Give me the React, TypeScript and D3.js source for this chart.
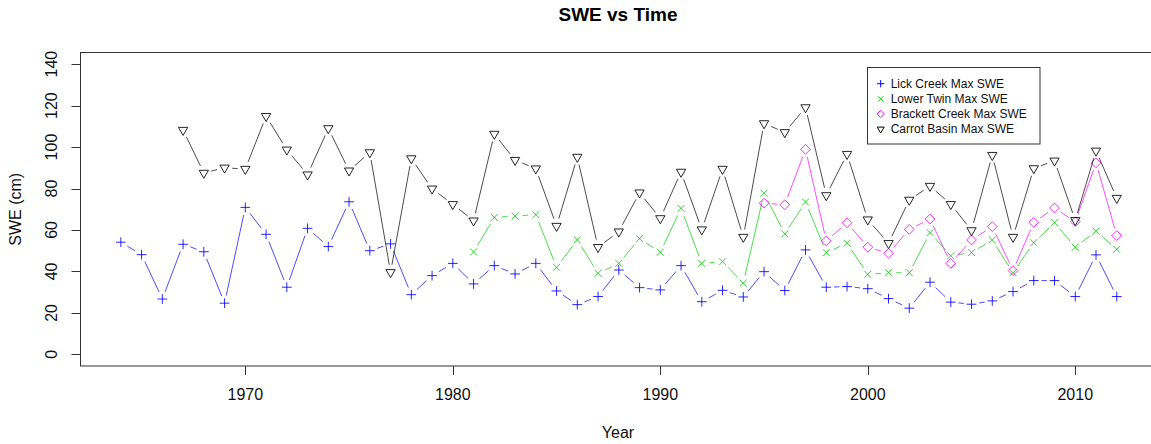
import React from 'react';
import * as d3 from 'd3';

// water years shown on the x axis
const years = [
  1964, 1965, 1966, 1967, 1968, 1969, 1970, 1971, 1972, 1973,
  1974, 1975, 1976, 1977, 1978, 1979, 1980, 1981, 1982, 1983,
  1984, 1985, 1986, 1987, 1988, 1989, 1990, 1991, 1992, 1993,
  1994, 1995, 1996, 1997, 1998, 1999, 2000, 2001, 2002, 2003,
  2004, 2005, 2006, 2007, 2008, 2009, 2010, 2011, 2012,
];

// max SWE per year (cm), null where the site has no record
const lickCreek = [
  54.1, 48.1, 26.7, 53.1, 49.5, 24.7, 70.9, 57.9, 32.4, 60.8,
  52.0, 73.6, 50.0, 53.3, 28.8, 38.0, 43.9, 34.0, 42.8, 38.8,
  43.9, 30.6, 24.0, 27.9, 40.7, 32.2, 31.1, 42.8, 25.4, 30.9,
  27.7, 39.9, 30.8, 50.4, 32.4, 32.7, 31.7, 26.9, 22.3, 34.8,
  25.2, 24.2, 25.8, 30.3, 35.6, 35.6, 27.9, 48.0, 27.9,
];
const lowerTwin = [
  null, null, null, null, null, null, null, null, null, null,
  null, null, null, null, null, null, null, 49.4, 66.1, 66.7,
  67.4, 42.0, 55.2, 39.1, 43.9, 55.8, 49.3, 70.4, 43.9, 44.7,
  34.4, 77.7, 58.1, 73.5, 49.1, 53.6, 38.6, 39.4, 39.4, 58.7,
  47.6, 49.1, 55.2, 39.4, 53.9, 63.5, 51.7, 59.4, 50.7,
];
const brackettCreek = [
  null, null, null, null, null, null, null, null, null, null,
  null, null, null, null, null, null, null, null, null, null,
  null, null, null, null, null, null, null, null, null, null,
  null, 72.9, 72.2, 98.9, 54.7, 63.5, 51.7, 48.8, 60.3, 65.3,
  43.9, 55.2, 61.6, 40.4, 63.7, 70.6, 64.0, 92.4, 57.3,
];
const carrotBasin = [
  null, null, null, 108.2, 87.5, 90.0, 89.4, 114.9, 98.7, 86.7,
  109.0, 88.6, 97.4, 39.6, 94.5, 79.9, 72.4, 64.5, 106.3, 93.7,
  89.6, 61.9, 95.2, 51.7, 59.2, 78.0, 65.6, 88.0, 60.2, 89.4,
  56.6, 111.4, 107.1, 119.1, 76.7, 96.6, 65.0, 53.6, 74.5, 81.2,
  72.4, 59.8, 96.1, 56.6, 89.7, 93.4, 64.7, 98.2, 75.4,
];

const seriesNames = [
  'Lick Creek Max SWE',
  'Lower Twin Max SWE',
  'Brackett Creek Max SWE',
  'Carrot Basin Max SWE',
];

const xTicks = [1970, 1980, 1990, 2000, 2010];
const yTicks = [0, 20, 40, 60, 80, 100, 120, 140];

const W = 1151;
const H = 444;
const FONT = '"Liberation Sans", Arial, sans-serif';

type Shape = 'plus' | 'cross' | 'diamond' | 'tri';

const series: { name: string; values: (number | null)[]; color: string; shape: Shape }[] = [
  { name: seriesNames[0], values: lickCreek, color: '#0000FF', shape: 'plus' },
  { name: seriesNames[1], values: lowerTwin, color: '#00CD00', shape: 'cross' },
  { name: seriesNames[2], values: brackettCreek, color: '#FF00FF', shape: 'diamond' },
  { name: seriesNames[3], values: carrotBasin, color: '#000000', shape: 'tri' },
];

// R style symbol paths, r is the base radius
function symbolPath(shape: Shape, x: number, y: number, r: number) {
  if (shape === 'plus') {
    const s = r * Math.SQRT2;
    return `M${x - s},${y}H${x + s}M${x},${y - s}V${y + s}`;
  }
  if (shape === 'cross') {
    return `M${x - r},${y - r}L${x + r},${y + r}M${x - r},${y + r}L${x + r},${y - r}`;
  }
  if (shape === 'diamond') {
    const s = r * Math.SQRT2;
    return `M${x},${y - s}L${x + s},${y}L${x},${y + s}L${x - s},${y}Z`;
  }
  const t0 = 1.5551, t1 = 1.3468, t2 = 0.7776;
  return `M${x - t1 * r},${y - t2 * r}L${x + t1 * r},${y - t2 * r}L${x},${y + t0 * r}Z`;
}

export default function App() {
  const xExt = d3.extent(years) as [number, number];
  const xPad = (xExt[1] - xExt[0]) * 0.04;
  const x = d3.scaleLinear().domain([xExt[0] - xPad, xExt[1] + xPad]).range([81, 1156.6]);
  const yPad = 140 * 0.04;
  const y = d3.scaleLinear().domain([0 - yPad, 140 + yPad]).range([366, 52.5]);

  const gap = 7.7;
  const r = 3.45;

  // type="b": segments between points with a gap around each point
  const segs = (vals: (number | null)[]) => {
    const out: string[] = [];
    for (let i = 0; i < vals.length - 1; i++) {
      const a = vals[i], b = vals[i + 1];
      if (a == null || b == null) continue;
      const x0 = x(years[i]), y0 = y(a), x1 = x(years[i + 1]), y1 = y(b);
      const len = Math.hypot(x1 - x0, y1 - y0);
      if (len <= 2 * gap) continue;
      const ux = (x1 - x0) / len, uy = (y1 - y0) / len;
      out.push(`M${x0 + ux * gap},${y0 + uy * gap}L${x1 - ux * gap},${y1 - uy * gap}`);
    }
    return out.join('');
  };

  const [x0, x1] = x.range();
  const [yb, yt] = y.range();

  const legX = 867.5, legY = 67.5, legW = 172.5, legH = 76.5;
  const legBase = [88, 103.2, 118.3, 133.4];

  return (
    <div style={{ position: 'absolute', left: 0, top: 0 }}>
      <svg width={W} height={H} style={{ display: 'block', background: '#fff' }} fontFamily={FONT}>
        <text x={618} y={21} textAnchor="middle" fontSize={19} fontWeight="bold">SWE vs Time</text>

        {series.map((s) => (
          <g key={s.name}>
            <path d={segs(s.values)} fill="none" stroke={s.color} strokeOpacity={0.7} strokeWidth={1} />
            {s.values.map((v, i) =>
              v == null ? null : (
                <path key={i} d={symbolPath(s.shape, x(years[i]), y(v), r)} fill="none" stroke={s.color} strokeOpacity={0.85} strokeWidth={1} />
              )
            )}
          </g>
        ))}

        <rect x={Math.round(x0) - 0.5} y={yt} width={x1 - x0 + 1} height={yb - yt} fill="none" stroke="#333" strokeWidth={1} />

        {xTicks.map((t) => (
          <g key={t}>
            <line x1={Math.round(x(t)) + 0.5} x2={Math.round(x(t)) + 0.5} y1={yb} y2={yb + 9} stroke="#333" />
            <text x={x(t)} y={400} textAnchor="middle" fontSize={16} fill="#111">{t}</text>
          </g>
        ))}
        {yTicks.map((t) => (
          <g key={t}>
            <line x1={Math.round(x0) - 0.5} x2={Math.round(x0) - 9.5} y1={Math.round(y(t)) + 0.5} y2={Math.round(y(t)) + 0.5} stroke="#333" />
            <text transform={`translate(57,${y(t)}) rotate(-90)`} textAnchor="middle" fontSize={16} fill="#111">{t}</text>
          </g>
        ))}

        <text x={618} y={438} textAnchor="middle" fontSize={16} fill="#111">Year</text>
        <text transform={`translate(20.5,${(yb + yt) / 2}) rotate(-90)`} textAnchor="middle" fontSize={16} fill="#111">SWE (cm)</text>

        <rect x={legX} y={legY} width={legW} height={legH} fill="#fff" stroke="#333" strokeWidth={1} />
        {series.map((s, i) => (
          <g key={s.name}>
            <path d={symbolPath(s.shape, 880.7, legBase[i] - 4.3, r * 0.75)} fill="none" stroke={s.color} strokeWidth={1} />
            <text x={890.7} y={legBase[i]} fontSize={12} fill="#111">{s.name}</text>
          </g>
        ))}
      </svg>
    </div>
  );
}
